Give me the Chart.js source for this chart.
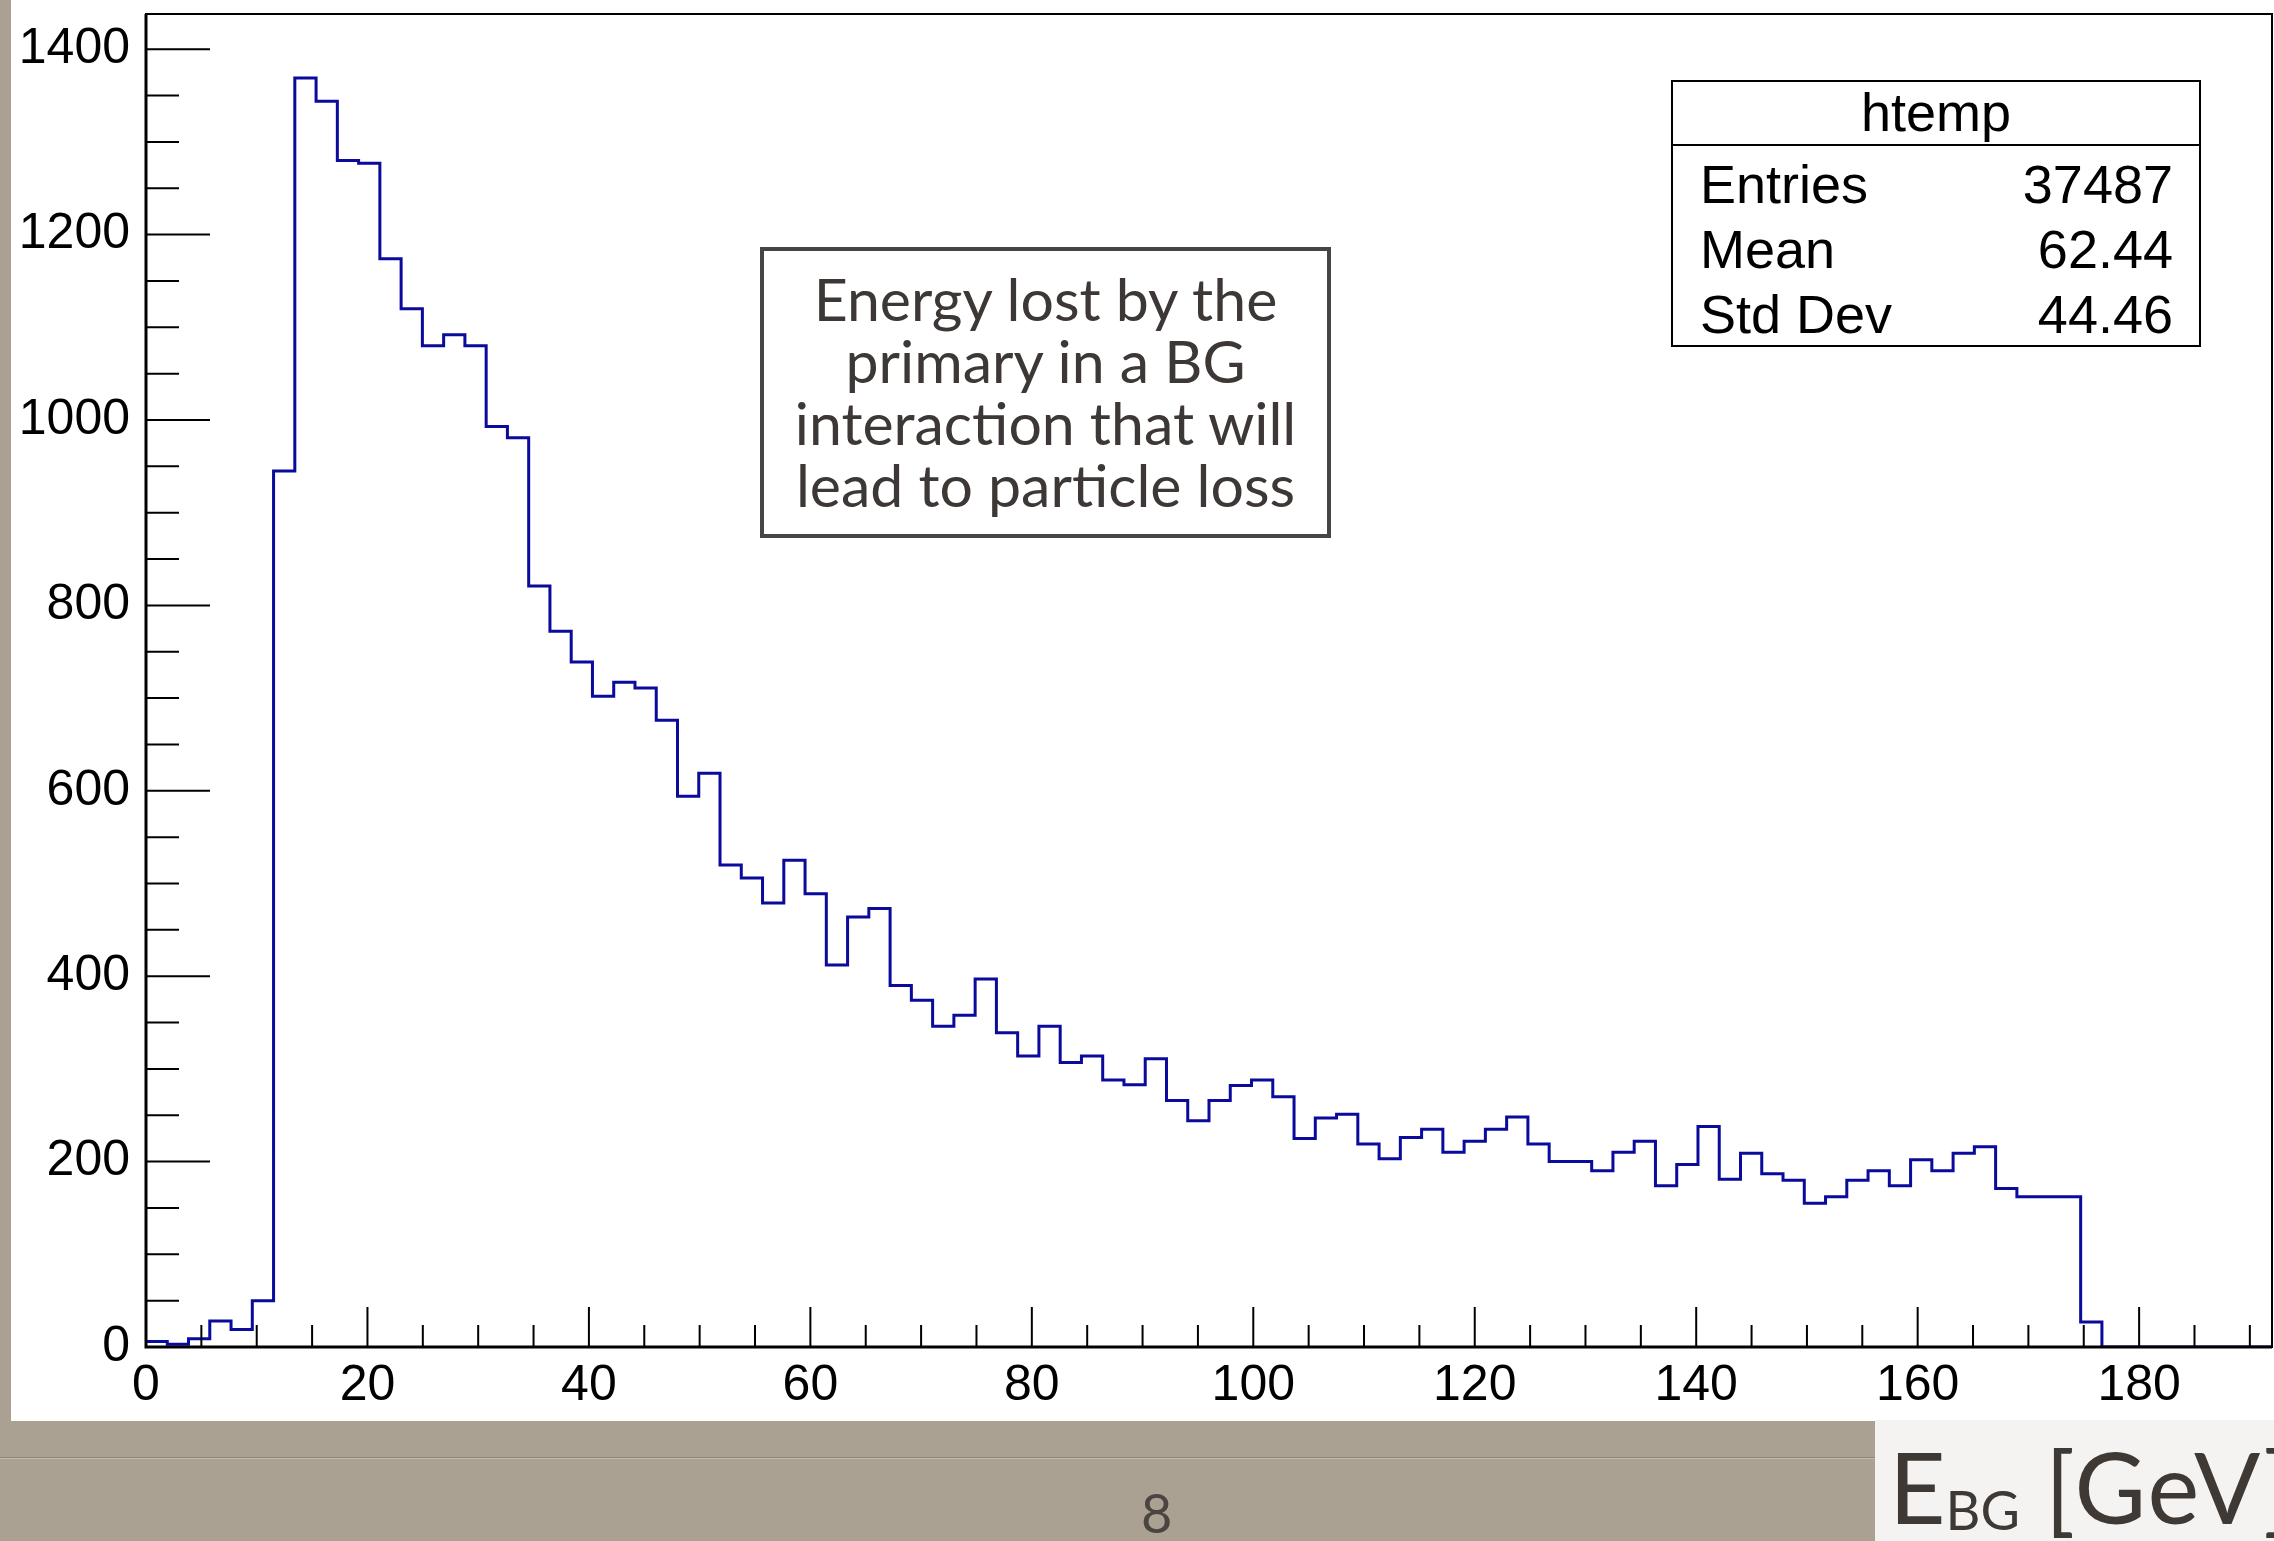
<!DOCTYPE html>
<html>
<head>
<meta charset="utf-8">
<script src="https://cdn.jsdelivr.net/npm/chart.js@4.4.1/dist/chart.umd.min.js"></script>
<style>
  html, body { margin: 0; padding: 0; }
  body {
    width: 2274px; height: 1541px; overflow: hidden; position: relative;
    background: #aaa193;
  }
  #pad { position: absolute; left: 11px; top: 0; width: 2263px; height: 1421px; background: #fff; }
  #hist { display: block; }
  #rule { position: absolute; left: 0; top: 1457px; width: 1875px; height: 1px; background: #8e867a;
          box-shadow: 0 1px 0 #c2baae; }
  .stats { position: absolute; left: 1671px; top: 80px; width: 526px; height: 263px;
           border: 2px solid #000; background: #fff; font-family: "Liberation Sans", Arial, sans-serif;
           font-size: 54px; color: #000; }
  .stats .head { position: absolute; left: 0; right: 0; top: 0; height: 62px; border-bottom: 2px solid #000;
                 text-align: center; line-height: 60px; }
  .stats .row { position: absolute; left: 27px; right: 26px; height: 60px; line-height: 60px; }
  .stats .row span { float: right; }
  .note { position: absolute; left: 760px; top: 247px; width: 563px; height: 266px;
          border: 4px solid #474544; background: #fff; color: #3d3835;
          font-family: Lato, "Open Sans", sans-serif; font-size: 59px; line-height: 62px;
          text-align: center; padding-top: 17px; box-sizing: content-box; white-space: nowrap; }
  #xlabel { position: absolute; left: 1875px; top: 1420px; width: 399px; height: 121px; background: #f4f3f1;
            overflow: hidden; }
  #xlabel div { position: absolute; left: 14px; top: 6px; white-space: nowrap; color: #3f3935;
                font-family: Lato, "Open Sans", sans-serif; font-size: 98px; line-height: 120px; }
  #xlabel sub { font-size: 54px; vertical-align: baseline; position: relative; top: 6px; }
  #xlabel .unit { letter-spacing: 2px; }
  #pageno { position: absolute; left: 1141px; top: 1480px; font-family: Lato, sans-serif; font-size: 54px;
            color: #4a4540; }
</style>
</head>
<body>
<div id="pad"><canvas id="hist" width="2263" height="1421"></canvas></div>
<div id="rule"></div>

<div class="stats">
  <div class="head">htemp</div>
  <div class="row" style="top: 72px;">Entries<span>37487</span></div>
  <div class="row" style="top: 137px;">Mean<span>62.44</span></div>
  <div class="row" style="top: 202px;">Std Dev<span>44.46</span></div>
</div>

<div class="note">Energy lost by the<br>primary in a BG<br>interaction that will<br>lead to particle loss</div>

<div id="xlabel"><div>E<sub>BG</sub>&nbsp;<span class="unit">[GeV]</span></div></div>
<div id="pageno">8</div>

<script>
// htemp: 100 bins between xMin and xMax
const xMin = 0;
const xMax = 192;
const binCounts = [
  6, 3, 9, 28, 19, 50,
  945, 1369, 1344, 1280, 1277, 1174, 1120, 1080, 1092, 1080, 993, 981, 821,
  772, 739, 702, 717, 711, 676, 594, 619, 520, 506, 479, 525, 489, 412, 464, 473, 390, 374, 346,
  358, 397, 339, 314, 346, 307, 314, 288, 283, 311, 266, 244, 266, 282, 288, 270, 225, 247, 251,
  219, 203, 226, 235, 210, 222, 235, 248, 219, 200, 200, 190, 210, 222, 174, 197, 238, 181, 209,
  187, 180, 155, 162, 180, 190, 174, 202, 190, 209, 216, 171, 162, 162, 162, 27,
  0, 0, 0, 0, 0, 0, 0, 0
];
const yMax = 1438;
const xTicks = [0, 20, 40, 60, 80, 100, 120, 140, 160, 180];
const xMinorStep = 5;
const yTicks = [0, 200, 400, 600, 800, 1000, 1200, 1400];
const yMinorStep = 50;

const binWidth = (xMax - xMin) / binCounts.length;
const points = binCounts.map((c, i) => ({ x: xMin + i * binWidth, y: c }));
points.push({ x: xMax, y: 0 });

const tickFont = { family: '"Liberation Sans", Arial, sans-serif', size: 50 };

// ROOT style frame with inward ticks
const frameTicks = {
  id: 'frameTicks',
  afterDatasetsDraw(chart) {
    const { ctx, chartArea: a, scales: { x, y } } = chart;
    ctx.save();
    ctx.strokeStyle = '#000';
    ctx.lineWidth = 2;
    ctx.strokeRect(a.left, a.top, a.right - a.left, a.bottom - a.top);
    ctx.beginPath();
    for (let v = xMin; v <= xMax; v += xMinorStep) {
      const px = x.getPixelForValue(v);
      const len = xTicks.includes(v) ? 40 : 22;
      ctx.moveTo(px, a.bottom);
      ctx.lineTo(px, a.bottom - len);
    }
    for (let v = 0; v <= yMax; v += yMinorStep) {
      const py = y.getPixelForValue(v);
      const len = yTicks.includes(v) ? 64 : 33;
      ctx.moveTo(a.left, py);
      ctx.lineTo(a.left + len, py);
    }
    ctx.stroke();
    ctx.lineWidth = 3;
    ctx.beginPath();
    ctx.moveTo(a.left, a.top);
    ctx.lineTo(a.left, a.bottom);
    ctx.lineTo(a.right, a.bottom);
    ctx.stroke();
    ctx.restore();
  }
};

new Chart(
  document.getElementById('hist'),
  {
    type: 'line',
    data: {
      datasets: [
        {
          label: 'htemp',
          data: points,
          stepped: 'before',
          borderColor: '#0a0a9c',
          borderWidth: 3,
          pointRadius: 0,
          fill: false,
        }
      ]
    },
    options: {
      responsive: false,
      animation: false,
      devicePixelRatio: 1,
      layout: { padding: { top: 14, right: 2, left: 0, bottom: 0 } },
      plugins: { legend: { display: false }, tooltip: { enabled: false } },
      scales: {
        x: {
          type: 'linear',
          min: xMin,
          max: xMax,
          afterBuildTicks: (scale) => { scale.ticks = xTicks.map(v => ({ value: v })); },
          afterFit: (scale) => {
            scale.height = 74;
            scale.paddingLeft = 0;
            scale.paddingRight = 0;
          },
          grid: { display: false, drawTicks: false },
          border: { display: false },
          ticks: { font: tickFont, color: '#000', padding: 9, maxRotation: 0, autoSkip: false,
                   callback: v => String(v) }
        },
        y: {
          min: 0,
          max: yMax,
          afterBuildTicks: (scale) => { scale.ticks = yTicks.map(v => ({ value: v })); },
          afterFit: (scale) => {
            scale.width = 135;
            scale.paddingTop = 0;
            scale.paddingBottom = 0;
          },
          grid: { display: false, drawTicks: false },
          border: { display: false },
          ticks: { font: tickFont, color: '#000', padding: 16, autoSkip: false,
                   callback: v => String(v) }
        }
      }
    },
    plugins: [frameTicks]
  }
);
</script>
</body>
</html>
